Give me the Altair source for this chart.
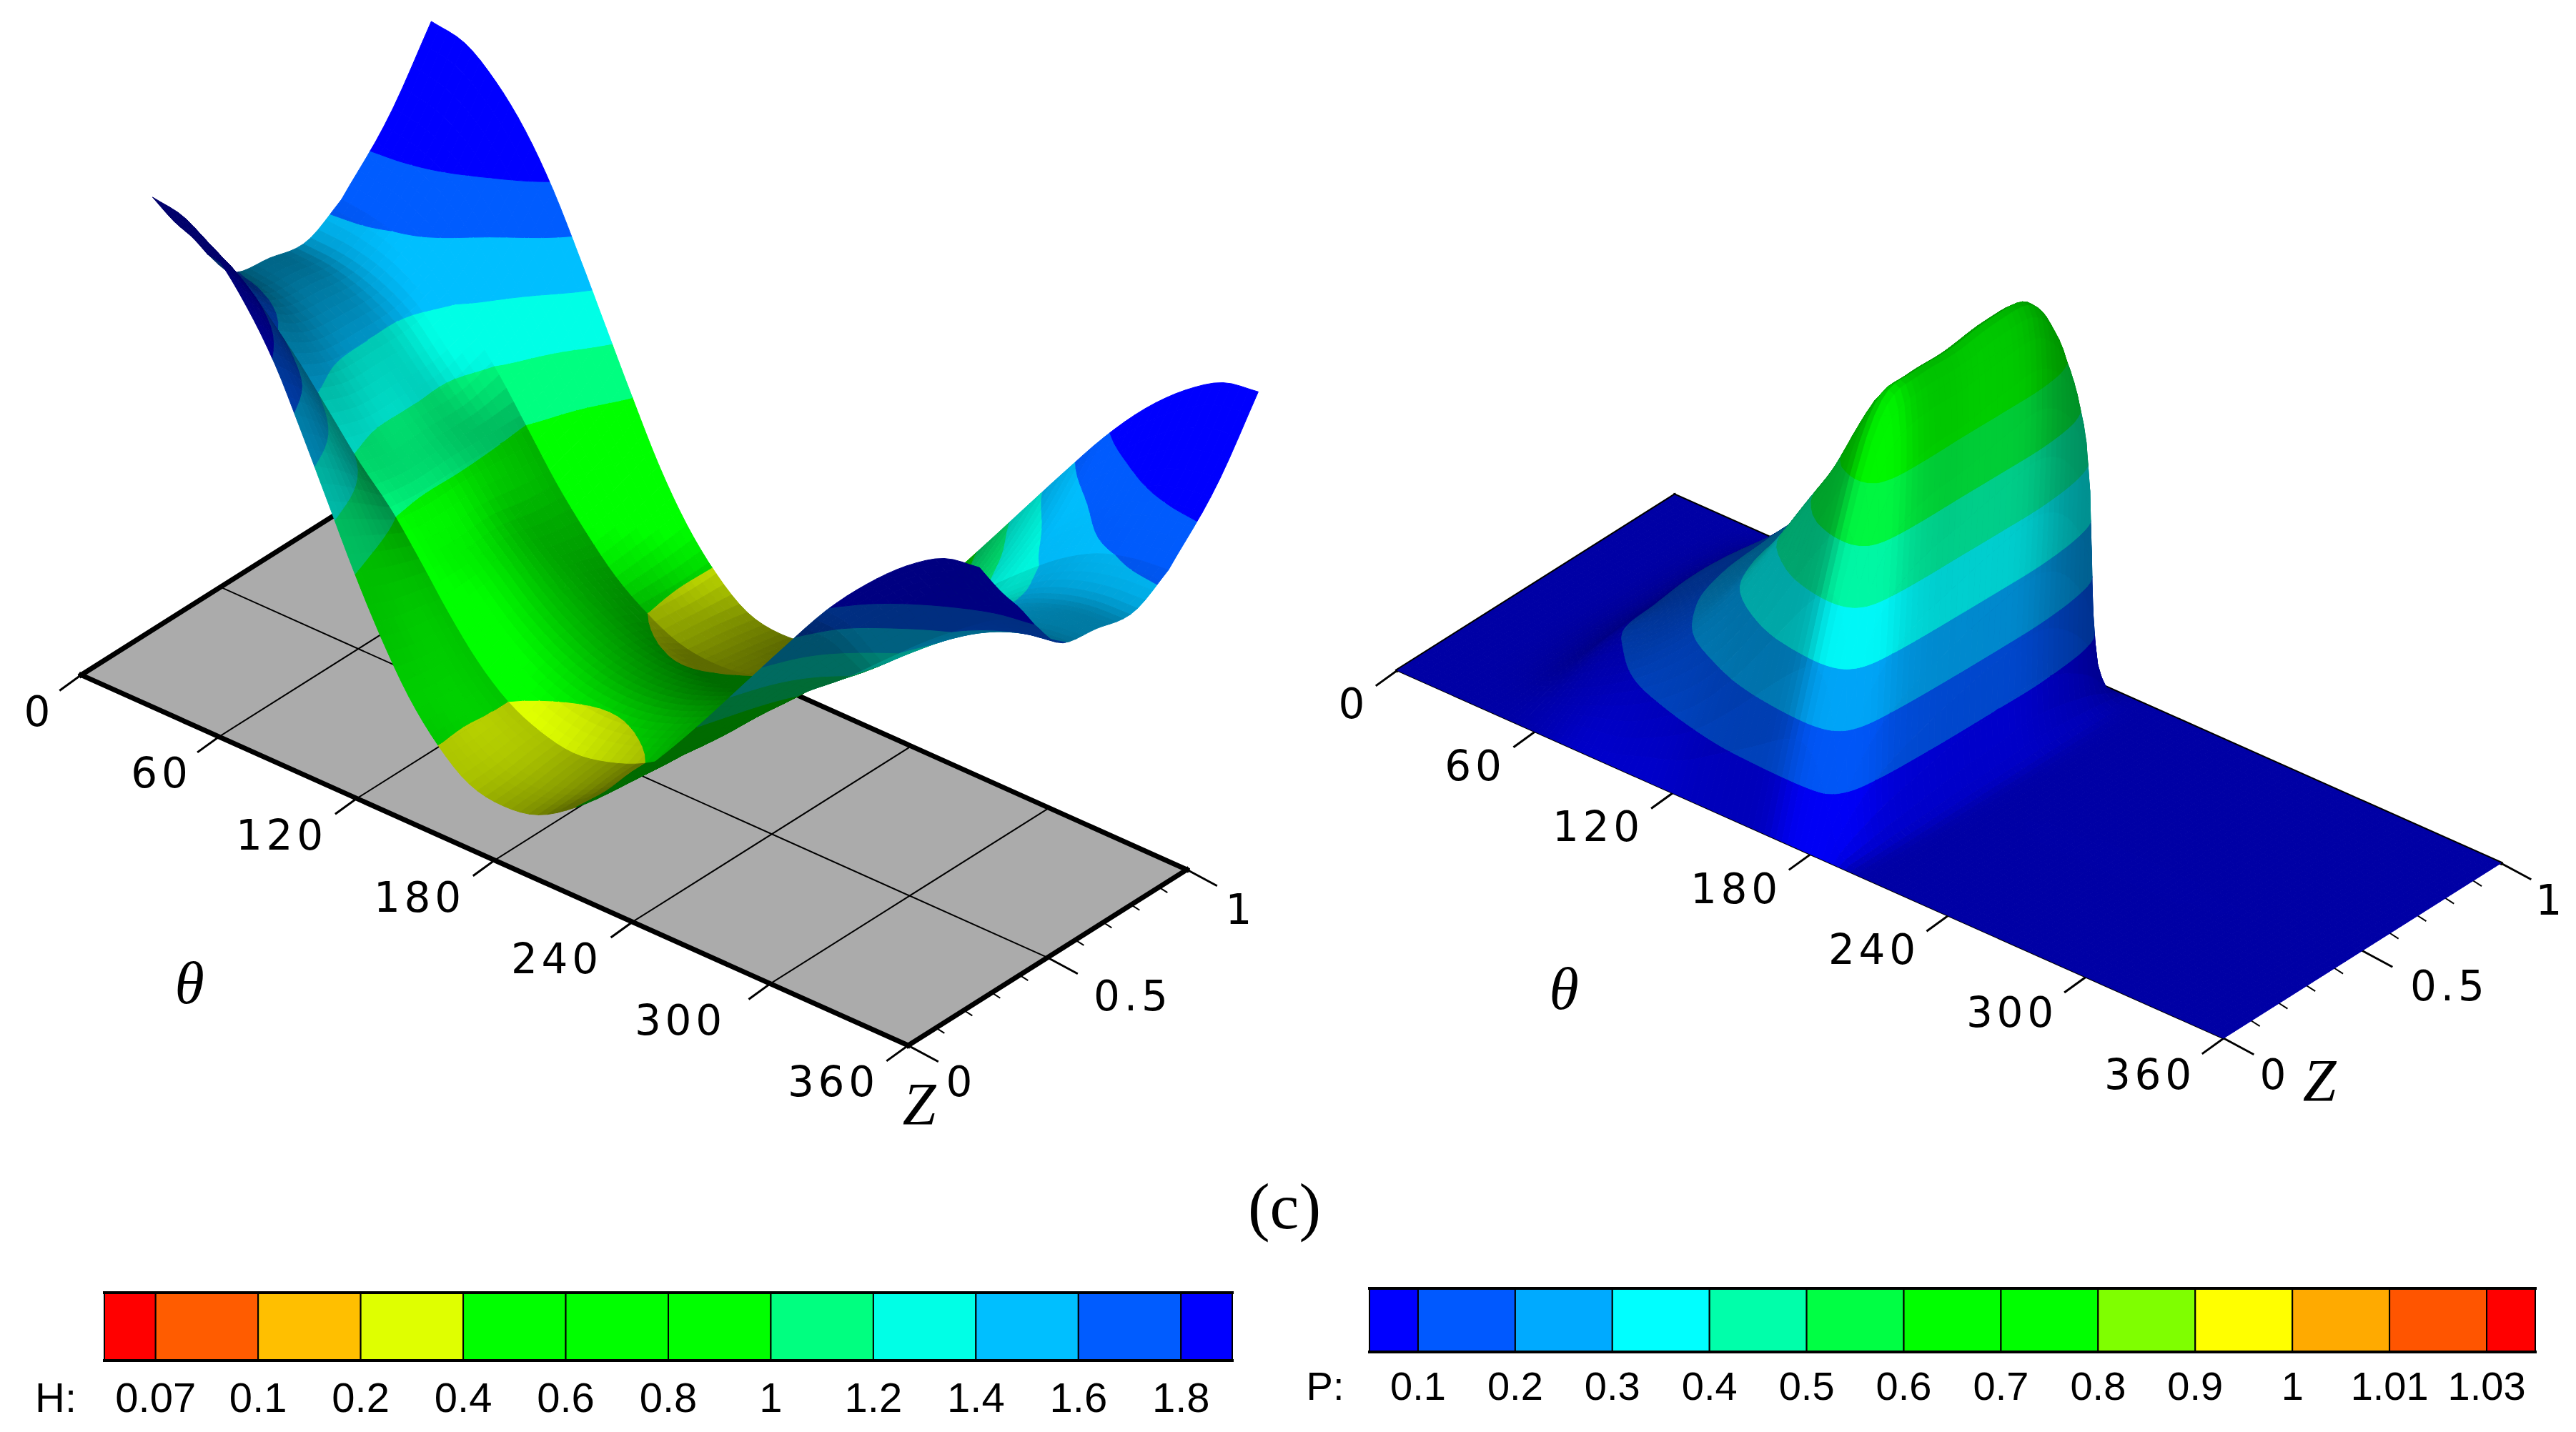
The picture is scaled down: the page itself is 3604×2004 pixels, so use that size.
import math
import numpy as np
import pandas as pd
import altair as alt

# ---------- values ----------
THETA_TICKS = [0, 60, 120, 180, 240, 300, 360]
Z_TICKS = [0, 0.5, 1]
Z_MINOR = [0.1, 0.2, 0.3, 0.4, 0.6, 0.7, 0.8, 0.9]

H_THETA = [0, 15, 30, 45, 60, 75, 90, 105, 120, 135, 150, 165, 180, 195, 210, 225, 240, 255, 270, 285, 300, 315, 330, 345, 360]
H_Z = [0, 0.1, 0.19, 0.25, 0.35, 0.5, 0.65, 0.75, 0.9, 1]
H_Z_CREASES = [0.25, 0.75]
H_00 = [2.28, 2.25, 2.14, 1.98, 1.78, 1.53, 1.27, 1.01, .77, .56, .40, .29, .26, .29, .40, .56, .77, 1.01, 1.27, 1.53, 1.78, 1.98, 2.14, 2.25, 2.28]
H_10 = [2.08, 2.05, 1.96, 1.81, 1.63, 1.41, 1.18, .94, .72, .54, .39, .30, .27, .30, .39, .54, .72, .94, 1.18, 1.41, 1.63, 1.81, 1.96, 2.05, 2.08]
H_19 = [1.92, 1.88, 1.77, 1.62, 1.45, 1.27, 1.09, .89, .70, .53, .40, .32, .29, .32, .40, .53, .70, .89, 1.09, 1.27, 1.45, 1.62, 1.77, 1.88, 1.92]
H_25 = [1.80, 1.75, 1.63, 1.49, 1.33, 1.17, 1.03, .86, .68, .52, .40, .33, .30, .33, .40, .52, .68, .86, 1.03, 1.17, 1.33, 1.49, 1.63, 1.75, 1.80]
H_35 = [1.63, 1.60, 1.53, 1.42, 1.28, 1.13, 1.01, .84, .70, .57, .47, .41, .39, .41, .47, .57, .70, .84, 1.01, 1.13, 1.28, 1.42, 1.53, 1.60, 1.63]
H_50 = [1.57, 1.55, 1.49, 1.40, 1.27, 1.13, 1.01, .85, .72, .60, .51, .45, .43, .45, .51, .60, .72, .85, 1.01, 1.13, 1.27, 1.40, 1.49, 1.55, 1.57]
H_65 = [1.54, 1.53, 1.49, 1.41, 1.27, 1.13, 1.00, .81, .67, .56, .47, .41, .39, .41, .47, .56, .67, .81, 1.00, 1.13, 1.27, 1.41, 1.49, 1.53, 1.54]
H_75 = [1.64, 1.62, 1.57, 1.47, 1.33, 1.17, .985, .80, .64, .50, .40, .33, .31, .33, .40, .50, .64, .80, .985, 1.17, 1.33, 1.47, 1.57, 1.62, 1.64]
H_90 = [1.95, 1.92, 1.84, 1.70, 1.53, 1.33, 1.11, .89, .69, .52, .38, .30, .27, .30, .38, .52, .69, .89, 1.11, 1.33, 1.53, 1.70, 1.84, 1.92, 1.95]
H_100 = [2.28, 2.25, 2.14, 1.98, 1.77, 1.52, 1.26, 1.00, .75, .54, .38, .27, .24, .27, .38, .54, .75, 1.00, 1.26, 1.52, 1.77, 1.98, 2.14, 2.25, 2.28]

P_THETA = [0, 30, 45, 60, 75, 90, 105, 120, 135, 150, 160, 168, 174, 178, 182, 186, 190, 196, 204, 360]
P_Z = [0, .02, .05, .1, .15, .25, .4, .55, .7, .85, .93, .97, 1]
P_000 = [0] * 13
P_030 = [0] * 13
P_045 = [0, 0, 0, .005, .01, .02, .03, .03, .03, .02, .01, 0, 0]
P_060 = [0, 0, .01, .03, .05, .09, .10, .11, .10, .07, .04, .02, 0]
P_075 = [0, .01, .03, .06, .09, .13, .155, .16, .16, .12, .07, .03, 0]
P_090 = [0, .01, .04, .10, .14, .19, .22, .23, .23, .18, .10, .05, 0]
P_105 = [0, .03, .07, .15, .21, .26, .29, .30, .30, .25, .15, .08, 0]
P_120 = [0, .05, .12, .22, .30, .36, .38, .39, .39, .33, .22, .11, 0]
P_135 = [0, .09, .20, .33, .43, .48, .49, .50, .50, .44, .32, .17, 0]
P_150 = [0, .13, .29, .49, .57, .60, .61, .62, .61, .50, .38, .20, 0]
P_160 = [0, .16, .34, .60, .69, .71, .71, .72, .70, .55, .40, .21, 0]
P_168 = [0, .17, .36, .64, .72, .74, .74, .75, .73, .56, .40, .21, 0]
P_174 = [0, .15, .32, .56, .63, .66, .66, .67, .66, .54, .39, .20, 0]
P_178 = [0, .12, .25, .42, .48, .52, .53, .55, .56, .47, .34, .17, 0]
P_182 = [0, .08, .15, .25, .30, .35, .38, .40, .41, .33, .23, .11, 0]
P_186 = [0, .03, .06, .10, .13, .17, .21, .24, .25, .18, .10, .04, 0]
P_190 = [0, .01, .015, .02, .03, .04, .06, .07, .08, .05, .03, .01, 0]
P_196 = [0, 0, 0, 0, 0, 0, 0, 0, .005, .005, 0, 0, 0]
P_204 = [0] * 13
P_360 = [0] * 13

H_LEVELS = [0.07, 0.1, 0.2, 0.4, 0.6, 0.8, 1, 1.2, 1.4, 1.6, 1.8]
H_LABELS = ["0.07", "0.1", "0.2", "0.4", "0.6", "0.8", "1", "1.2", "1.4", "1.6", "1.8"]
H_COLORS = ["#ff0000", "#ff5c00", "#ffbf00", "#dfff00", "#00ff00", "#00ff00", "#00ff00", "#00ff80", "#00ffe6", "#00bfff", "#005cff", "#0000ff"]
P_LEVELS = [0.1, 0.2, 0.3, 0.4, 0.5, 0.6, 0.7, 0.8, 0.9, 1, 1.01, 1.03]
P_LABELS = ["0.1", "0.2", "0.3", "0.4", "0.5", "0.6", "0.7", "0.8", "0.9", "1", "1.01", "1.03"]
P_COLORS = ["#0000ff", "#0059ff", "#00aaff", "#00ffff", "#00ffaa", "#00ff44", "#00ff00", "#00ff00", "#7fff00", "#ffff00", "#ffaa00", "#ff5500", "#ff0000"]

# ---------- view geometry ----------
W, H_PAGE = 3604, 2004
LEFT_VIEW = dict(o=(113.5, 944.6), a=(1157.0, 518.4), b=(390.0, -246.0), c=(43.8, -293.3))
RIGHT_VIEW = dict(o=(1955.0, 938.0), a=(1156.0, 515.0), b=(388.0, -245.0), c=(120.0, -800.0))


def project(view, th, z, v=0.0):
    return (view["o"][0] + th / 360.0 * view["a"][0] + z * view["b"][0] + v * view["c"][0],
            view["o"][1] + th / 360.0 * view["a"][1] + z * view["b"][1] + v * view["c"][1])


def smooth(xs, ys, xq, breaks=()):
    xs = np.asarray(xs, float)
    ys = np.asarray(ys, float)
    out = np.zeros((len(xq),) + ys.shape[1:])
    cuts = [0] + [int(np.argmin(abs(xs - b))) for b in breaks] + [len(xs) - 1]
    for s, e in zip(cuts[:-1], cuts[1:]):
        xx, yy = xs[s:e + 1], ys[s:e + 1]
        m = np.gradient(yy, xx, axis=0)
        for n, q in enumerate(xq):
            if q < xx[0] - 1e-9 or q > xx[-1] + 1e-9:
                continue
            k = min(max(np.searchsorted(xx, q) - 1, 0), len(xx) - 2)
            h = xx[k + 1] - xx[k]
            t = (q - xx[k]) / h
            out[n] = ((2 * t**3 - 3 * t**2 + 1) * yy[k] + (t**3 - 2 * t**2 + t) * h * m[k]
                      + (-2 * t**3 + 3 * t**2) * yy[k + 1] + (t**3 - t**2) * h * m[k + 1])
    return out


def clip(poly, lo, hi):
    def cut(pts, lim, keep_above):
        res = []
        for i in range(len(pts)):
            p, q = pts[i], pts[(i + 1) % len(pts)]
            a = p[2] >= lim if keep_above else p[2] <= lim
            b = q[2] >= lim if keep_above else q[2] <= lim
            if a:
                res.append(p)
            if a != b:
                t = (lim - p[2]) / (q[2] - p[2])
                res.append((p[0] + t * (q[0] - p[0]), p[1] + t * (q[1] - p[1]), lim))
        return res
    pts = poly
    if lo is not None:
        pts = cut(pts, lo, True)
    if hi is not None and pts:
        pts = cut(pts, hi, False)
    return pts


def shade_hex(hexcol, s):
    r, g, b = [int(hexcol[i:i + 2], 16) for i in (1, 3, 5)]
    return "#%02x%02x%02x" % (int(r * s), int(g * s), int(b * s))


def feature(ring, col):
    ring = [[round(x, 1), round(y, 1)] for x, y in ring]
    ring.append(ring[0])
    return {"type": "Feature", "properties": {"c": col},
            "geometry": {"type": "Polygon", "coordinates": [ring]}}


def mesh(view, tq, zq, V, S, levels, colors):
    feats = []
    bounds = [None] + list(levels) + [None]
    for i in range(len(tq) - 1):
        for j in range(len(zq) - 2, -1, -1):
            corners = [(i, j), (i + 1, j), (i + 1, j + 1), (i, j + 1)]
            poly = []
            for a, b in corners:
                x, y = project(view, tq[a], zq[b], V[a, b])
                poly.append((x, y, V[a, b]))
            vals = [p[2] for p in poly]
            for n, col in enumerate(colors):
                lo, hi = bounds[n], bounds[n + 1]
                if lo is not None and max(vals) < lo:
                    continue
                if hi is not None and min(vals) > hi:
                    continue
                piece = clip(poly, lo, hi)
                if len(piece) >= 3:
                    feats.append(feature([(p[0], p[1]) for p in piece], shade_hex(col, S[i, j])))
    return feats


def box(a, n, axis):
    """Two passes of a box filter along one axis, with the edges held."""
    pad = [(0, 0), (0, 0)]
    pad[axis] = (n, n)
    k = np.ones(n) / n
    b = np.pad(a, pad, mode="edge")
    for _ in range(2):
        b = np.apply_along_axis(lambda r: np.convolve(r, k, mode="same"), axis, b)
    return b[n:-n, :] if axis == 0 else b[:, n:-n]


# ---------- left surface ----------
H_TABLE = np.array([H_00, H_10, H_19, H_25, H_35, H_50, H_65, H_75, H_90, H_100]).T
tq1 = np.arange(0, 360.01, 3.75)
zq1 = np.unique(np.round(np.concatenate([np.linspace(0, 1, 41), H_Z_CREASES]), 4))
V1 = smooth(H_THETA, H_TABLE, tq1)
V1 = smooth(H_Z, V1.T, zq1, H_Z_CREASES).T
dt = math.radians(tq1[1] - tq1[0])
Ht = ((V1[1:, :-1] - V1[:-1, :-1]) + (V1[1:, 1:] - V1[:-1, 1:])) / 2 / dt
Hz = ((V1[:-1, 1:] - V1[:-1, :-1]) + (V1[1:, 1:] - V1[1:, :-1])) / 2 / np.diff(zq1)[None, :]
tc1 = (tq1[:-1] + tq1[1:]) / 2
zc1 = (zq1[:-1] + zq1[1:]) / 2
Ht = box(Ht, 3, 0)
Hz = box(Hz, 3, 0)
for lo, hi in [(0, .25), (.25, .75), (.75, 1)]:
    m = (zc1 > lo) & (zc1 < hi)
    Hz[:, m] = box(Hz[:, m], 5, 1)
    Ht[:, m] = box(Ht[:, m], 5, 1)
TT, ZZ = np.meshgrid(tc1, zc1, indexing="ij")
mid = (ZZ > .25) & (ZZ < .75)
neg = np.where(mid, 0.30, 0.42)
zterm = np.where(Hz < 0, neg, 0.42) * np.tanh(Hz / 0.9)
front = 0.6 - 0.45 * Ht + zterm
bump = 0.18 * np.exp(-((TT - 95) / 35.0) ** 2) * (0.5 - ZZ) / 0.25 * mid
front = front + bump
rear = 0.70 + np.where(Hz < 0, 0.2, 0.3) * np.tanh(Hz / 0.9)
w = np.clip((TT - 240) / 60.0, 0, 1)
S1 = np.clip((1 - w) * front + w * rear, 0.42, 1.0)
left_feats = mesh(LEFT_VIEW, tq1, zq1, V1, S1, H_LEVELS, H_COLORS)

# ---------- right surface ----------
P_TABLE = np.array([P_000, P_030, P_045, P_060, P_075, P_090, P_105, P_120, P_135, P_150, P_160, P_168,
                    P_174, P_178, P_182, P_186, P_190, P_196, P_204, P_360])
tq2 = np.arange(0, 360.01, 2.5)
zq2 = np.linspace(0, 1, 51)
V2 = smooth(P_THETA, P_TABLE, tq2)
V2 = np.clip(smooth(P_Z, V2.T, zq2).T, 0, None)
V2 = box(V2, 3, 0)
V2b = box(V2, 3, 1)
V2b[:, :2] = V2[:, :2]
V2b[:, -2:] = V2[:, -2:]
V2 = V2b
dt2 = math.radians(2.5)
Pt = ((V2[1:, :-1] - V2[:-1, :-1]) + (V2[1:, 1:] - V2[:-1, 1:])) / 2 / dt2
Pz = ((V2[:-1, 1:] - V2[:-1, :-1]) + (V2[1:, 1:] - V2[1:, :-1])) / 2 / np.diff(zq2)[None, :]
Pt = box(box(Pt, 5, 0), 5, 1)
Pz = box(box(Pz, 5, 0), 5, 1)
t_term = np.where(Pt < 0, 0.12, 0.22) * np.tanh(-Pt / 0.3)
S2 = np.clip(0.65 + t_term + 0.2 * np.tanh(Pz / 0.6), 0.38, 1.0)
right_feats = mesh(RIGHT_VIEW, tq2, zq2, V2, S2, P_LEVELS, P_COLORS)

# ---------- chart ----------
xs = alt.Scale(domain=[8, W - 8], range=[0, W - 16])
ys = alt.Scale(domain=[8, H_PAGE - 8], range=[0, H_PAGE - 16])
X = alt.X("x:Q", scale=xs, axis=None)
Y = alt.Y("y:Q", scale=ys, axis=None)
PROJ = dict(type="identity", scale=1, translate=[-8, -8])


def shapes(feats, sw=1.0):
    data = alt.InlineData(values={"type": "FeatureCollection", "features": feats},
                          format=alt.DataFormat(property="features", type="json"))
    return (alt.Chart(data).mark_geoshape(strokeWidth=sw)
            .encode(fill=alt.Fill("properties.c:N", scale=None), stroke=alt.Stroke("properties.c:N", scale=None))
            .project(**PROJ))


def lines(segs, sw, col="#000000"):
    rows = []
    for k, (p, q) in enumerate(segs):
        rows.append({"x": p[0], "y": p[1], "g": k, "o": 0})
        rows.append({"x": q[0], "y": q[1], "g": k, "o": 1})
    return (alt.Chart(pd.DataFrame(rows)).mark_line(color=col, strokeWidth=sw, strokeCap="square")
            .encode(x=X, y=Y, detail="g:N", order="o:Q"))


def texts(rows, font, size, style="normal"):
    return (alt.Chart(pd.DataFrame(rows, columns=["x", "y", "t"]))
            .mark_text(font=font, fontSize=size, fontStyle=style, color="#000000", align="center", baseline="middle")
            .encode(x=X, y=Y, text="t:N"))


def spaced(s):
    return "\u200a".join(s)


TICK_T = (-29, 21)
TICK_Z = (41, 22)
TICK_M = (11, 7)


def ticks(view):
    major, minor = [], []
    for t in THETA_TICKS:
        p = project(view, t, 0)
        major.append((p, (p[0] + TICK_T[0], p[1] + TICK_T[1])))
    for z in Z_TICKS:
        p = project(view, 360, z)
        major.append((p, (p[0] + TICK_Z[0], p[1] + TICK_Z[1])))
    for z in Z_MINOR:
        p = project(view, 360, z)
        minor.append((p, (p[0] + TICK_M[0], p[1] + TICK_M[1])))
    return major, minor


# floor of the left panel
lv = LEFT_VIEW
floor = feature([project(lv, 0, 0), project(lv, 360, 0), project(lv, 360, 1), project(lv, 0, 1)], "#ababab")
grid_l = [(project(lv, t, 0), project(lv, t, 1)) for t in THETA_TICKS[1:-1]] + [(project(lv, 0, 0.5), project(lv, 360, 0.5))]
edge_l = [(project(lv, 0, 0), project(lv, 360, 0)), (project(lv, 360, 0), project(lv, 360, 1)),
          (project(lv, 360, 1), project(lv, 0, 1)), (project(lv, 0, 1), project(lv, 0, 0))]
maj_l, min_l = ticks(lv)
rv = RIGHT_VIEW
edge_r = [(project(rv, 0, 0), project(rv, 0, 1)), (project(rv, 0, 1), project(rv, 360, 1))]
edge_r2 = [(project(rv, 0, 0), project(rv, 360, 0))]
maj_r, min_r = ticks(rv)

LEFT_TICK_POS = [(52, 999), (223, 1085), (391, 1172), (584, 1259), (776, 1345), (949, 1431), (1163, 1517)]
RIGHT_TICK_POS = [(1891, 988), (2061, 1075), (2233, 1160), (2426, 1247), (2619, 1332), (2812, 1420), (3005, 1507)]
tick_text = [(p[0], p[1], spaced(str(t))) for p, t in zip(LEFT_TICK_POS + RIGHT_TICK_POS, THETA_TICKS * 2)]
tick_text += [(1342, 1517, "0"), (1582, 1397, spaced("0.5")), (1733, 1276, "1"),
              (3180, 1507, "0"), (3424, 1383, spaced("0.5")), (3566, 1263, "1")]
axis_names = [(265, 1379, "\u03b8"), (2188, 1387, "\u03b8"), (1286, 1549, "Z"), (3245, 1516, "Z")]


# colour bars: half cell, ten full cells, half cell
def colorbar(colors, labels, x0, x1, y0, y1):
    n = len(colors)
    step = (x1 - x0) / (n - 1)
    edges = [x0] + [x0 + step * (i + 0.5) for i in range(n - 1)] + [x1]
    rects = pd.DataFrame({"x": edges[:-1], "x2": edges[1:], "y": y0, "y2": y1, "c": colors})
    r = (alt.Chart(rects).mark_rect(stroke="#000000", strokeWidth=2)
         .encode(x=X, x2="x2:Q", y=Y, y2="y2:Q", fill=alt.Fill("c:N", scale=None)))
    return r, edges


bar_h, edges_h = colorbar(H_COLORS, H_LABELS, 146, 1724, 1810, 1904)
bar_p, edges_p = colorbar(P_COLORS, P_LABELS, 1916, 3547, 1804, 1892)
bar_lines = lines([((146, 1809), (1724, 1809)), ((146, 1904), (1724, 1904)),
                   ((1916, 1803), (3547, 1803)), ((1916, 1892), (3547, 1892))], 4)
leg_h = [(e, 1959, t) for e, t in zip(edges_h[1:-1], H_LABELS)] + [(78, 1959, "H:")]
leg_p = [(e, 1942, t) for e, t in zip(edges_p[1:-1], P_LABELS)] + [(1854, 1942, "P:")]

layers = [
    shapes([floor], 0.5),
    lines(grid_l, 2),
    lines(edge_l, 7),
    lines(maj_l, 3),
    lines(min_l, 2),
    lines(edge_r, 5),
    lines(edge_r2, 3),
    lines(maj_r, 3),
    lines(min_r, 2),
    shapes(left_feats),
    shapes(right_feats),
    bar_h, bar_p, bar_lines,
    texts(tick_text, "DejaVu Sans", 58),
    texts(axis_names, "Liberation Serif", 84, "italic"),
    texts([(1797, 1691, "(c)")], "Liberation Serif", 92),
    texts(leg_h, "Liberation Sans", 58),
    texts(leg_p, "Liberation Sans", 56),
]

chart = alt.layer(*layers).properties(
    width=W - 16, height=H_PAGE - 16, padding=0, background="#ffffff",
    autosize=alt.AutoSizeParams(type="none"),
).configure_view(stroke=None)

chart.save("out.html", embed_options={"renderer": "svg", "actions": False})
